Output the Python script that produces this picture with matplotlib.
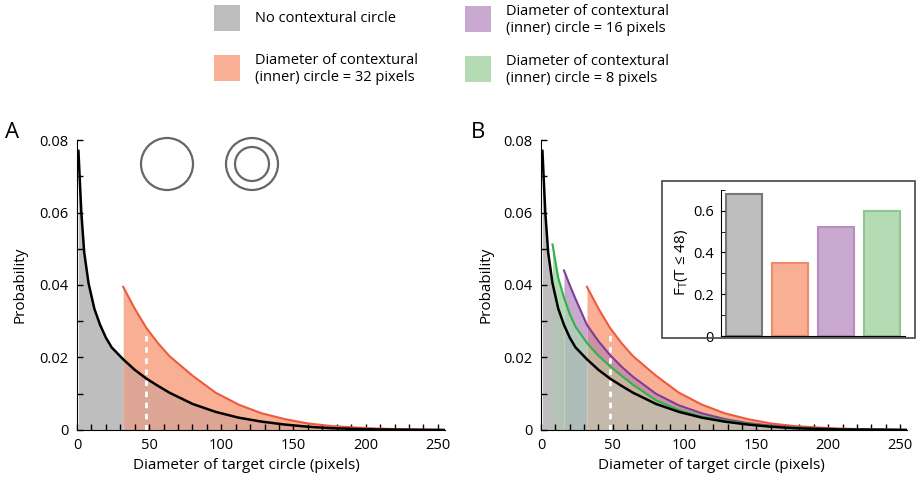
import matplotlib
matplotlib.use("Agg")
import matplotlib.pyplot as plt
from matplotlib.patches import Rectangle, Ellipse
import numpy as np

plt.rcParams['font.family'] = ['Open Sans', 'DejaVu Sans']
plt.rcParams['mathtext.default'] = 'regular'

# ---------------- DATA ----------------
diam = np.array([1, 3, 5, 8, 12, 16, 20, 24, 32, 40, 48, 56, 64, 80, 96, 112,
                 128, 144, 160, 176, 192, 208, 224, 240, 256])
nan = np.nan
p_none = np.array([0.077, 0.060, 0.049, 0.0405, 0.0335, 0.0290, 0.0255, 0.0228,
                   0.0195, 0.0166, 0.0142, 0.0122, 0.0103, 0.0072, 0.0050, 0.0034,
                   0.0023, 0.0015, 0.0009, 0.0005, 0.0003, 0.00015, 0.0001, 0.00005, 0.0])
p_8 = np.array([nan, nan, nan, 0.0512, 0.0420, 0.0365, 0.0320, 0.0285,
                0.0240, 0.0205, 0.0176, 0.0150, 0.0125, 0.0082, 0.0055, 0.0037,
                0.0026, 0.0017, 0.0010, 0.0006, 0.0003, 0.0002, 0.0001, 0.00005, 0.0])
p_16 = np.array([nan, nan, nan, nan, nan, 0.0440, 0.0400, 0.0362,
                 0.0290, 0.0245, 0.0207, 0.0175, 0.0147, 0.0100, 0.0068, 0.0046,
                 0.0030, 0.0019, 0.0012, 0.0007, 0.0004, 0.00025, 0.00015, 0.00008, 0.0])
p_32 = np.array([nan, nan, nan, nan, nan, nan, nan, nan,
                 0.0395, 0.0335, 0.0282, 0.0240, 0.0204, 0.0150, 0.0103, 0.0070,
                 0.0046, 0.0030, 0.0018, 0.0011, 0.0007, 0.0004, 0.0002, 0.0001, 0.0])

bar_labels = ["none", "32", "16", "8"]
bar_values = [0.68, 0.35, 0.52, 0.60]

legend_labels = ["No contextural circle",
                 "Diameter of contextural\n(inner) circle = 32 pixels",
                 "Diameter of contextural\n(inner) circle = 16 pixels",
                 "Diameter of contextural\n(inner) circle = 8 pixels"]

# colours
c_gray, c_orange, c_purple, c_green = "#BEBEBE", "#F8AF93", "#C9A9CF", "#B5DBB5"
l_orange, l_purple, l_green = "#EE5A3C", "#7E3D99", "#2DB34A"
edge_cols = ["#777777", "#F08A6C", "#B88EC2", "#8FC68F"]

fig = plt.figure(figsize=(9.21, 4.8), dpi=100)

def style_axes(ax):
    ax.set_xlim(0, 255)
    ax.set_ylim(0, 0.08)
    ax.spines['top'].set_visible(False)
    ax.spines['right'].set_visible(False)
    ax.set_xticks([0, 50, 100, 150, 200, 250])
    ax.set_xticks(np.arange(0, 251, 10), minor=True)
    ax.set_yticks([0, 0.02, 0.04, 0.06, 0.08])
    ax.set_yticklabels(["0", "0.02", "0.04", "0.06", "0.08"])
    ax.set_yticks(np.arange(0, 0.081, 0.01), minor=True)
    ax.tick_params(which='both', direction='in', labelsize=10.5, width=1)
    ax.tick_params(which='major', length=4, pad=6)
    ax.tick_params(which='minor', length=4)
    ax.set_ylabel("Probability", fontsize=11)
    ax.set_xlabel("Diameter of target circle (pixels)", fontsize=11)

def m(lo, hi=999):
    return (diam >= lo) & (diam <= hi)

# ---------------- PANEL A ----------------
axA = fig.add_axes([0.0836, 0.1042, 0.3996, 0.6041])
axA.fill_between(diam, 0, p_32, where=m(32), color=c_orange, lw=0)
axA.fill_between(diam, 0, p_none, where=m(1, 32), color=c_gray, lw=0)
axA.fill_between(diam, 0, p_none, where=m(32), color="#DDA593", lw=0)
axA.plot([48, 48], [0, p_32[diam == 48][0] - 0.001], color="white", lw=2, ls=(0, (2, 2)))
axA.plot(diam, p_32, color=l_orange, lw=1.5)
axA.plot(diam, p_none, color="black", lw=1.8)
style_axes(axA)
axA.xaxis.set_label_coords(0.46, -0.095)
axA.yaxis.set_label_coords(-0.135, 0.5)

# circles
fig.add_artist(Ellipse((167 / 921, 1 - 164 / 480), 52 / 921, 52 / 480,
                       fill=False, ec="#666666", lw=1.6))
fig.add_artist(Ellipse((252 / 921, 1 - 164 / 480), 52 / 921, 52 / 480,
                       fill=False, ec="#666666", lw=1.6))
fig.add_artist(Ellipse((252 / 921, 1 - 164 / 480), 34 / 921, 34 / 480,
                       fill=False, ec="#666666", lw=1.6))

# ---------------- PANEL B ----------------
axB = fig.add_axes([0.5874, 0.1042, 0.3976, 0.6041])
axB.fill_between(diam, p_16, p_32, where=m(32), color=c_orange, lw=0)
axB.fill_between(diam, p_8, p_16, where=m(16, 32), color=c_purple, lw=0)
axB.fill_between(diam, p_8, p_16, where=m(32), color="#CC8FA5", lw=0)
axB.fill_between(diam, p_none, p_8, where=m(8, 16), color=c_green, lw=0)
axB.fill_between(diam, p_none, p_8, where=m(16, 32), color="#B4CAB8", lw=0)
axB.fill_between(diam, p_none, p_8, where=m(32), color="#C6B39E", lw=0)
axB.fill_between(diam, 0, p_none, where=m(1, 8), color=c_gray, lw=0)
axB.fill_between(diam, 0, p_none, where=m(8, 16), color="#B3C4B4", lw=0)
axB.fill_between(diam, 0, p_none, where=m(16, 32), color="#AEBDB8", lw=0)
axB.fill_between(diam, 0, p_none, where=m(32), color="#C5B9AB", lw=0)
axB.plot([48, 48], [0, p_32[diam == 48][0] - 0.001], color="white", lw=2, ls=(0, (2, 2)))
axB.plot(diam, p_32, color=l_orange, lw=1.5)
axB.plot(diam, p_16, color=l_purple, lw=1.5)
axB.plot(diam, p_8, color=l_green, lw=1.5)
axB.plot(diam, p_none, color="black", lw=1.8)
style_axes(axB)
axB.xaxis.set_label_coords(0.466, -0.095)
axB.yaxis.set_label_coords(-0.131, 0.5)

# ---------------- INSET ----------------
fig.add_artist(Rectangle((0.7188, 0.2958), 0.2747, 0.3271, transform=fig.transFigure,
                         fill=False, ec="#444444", lw=1.2))
axI = fig.add_axes([0.7828, 0.3, 0.1998, 0.3046])
axI.bar(range(len(bar_values)), bar_values, width=0.8,
        color=[c_gray, c_orange, c_purple, c_green], edgecolor=edge_cols, lw=1.5)
axI.set_xlim(-0.5, 3.5)
axI.set_ylim(0, 0.7)
axI.spines['top'].set_visible(False)
axI.spines['right'].set_visible(False)
axI.set_xticks([])
axI.set_yticks([0, 0.2, 0.4, 0.6])
axI.set_yticklabels(["0", "0.2", "0.4", "0.6"])
axI.set_yticks(np.arange(0, 0.71, 0.1), minor=True)
axI.tick_params(which='both', direction='in', length=3, labelsize=10.5, pad=5)
axI.set_ylabel("F$_T$(T ≤ 48)", fontsize=11, labelpad=2)

# ---------------- LEGEND ----------------
leg_cols = [c_gray, c_orange, c_purple, c_green]
leg_pos = [(214, 5), (214, 55), (465, 6), (465, 56)]
for lab, col, (px, py) in zip(legend_labels, leg_cols, leg_pos):
    fig.add_artist(Rectangle((px / 921, 1 - (py + 26) / 480), 26 / 921, 26 / 480,
                             transform=fig.transFigure, color=col, lw=0))
    fig.text((px + 41) / 921, 1 - (py + 14) / 480, lab, fontsize=10.5,
             ha="left", va="center", linespacing=1.2)

# panel letters
fig.text(5 / 921, 1 - 138 / 480, "A", fontsize=16, ha="left", va="baseline")
fig.text(471 / 921, 1 - 138 / 480, "B", fontsize=16, ha="left", va="baseline")

fig.savefig("out.png", dpi=100)
